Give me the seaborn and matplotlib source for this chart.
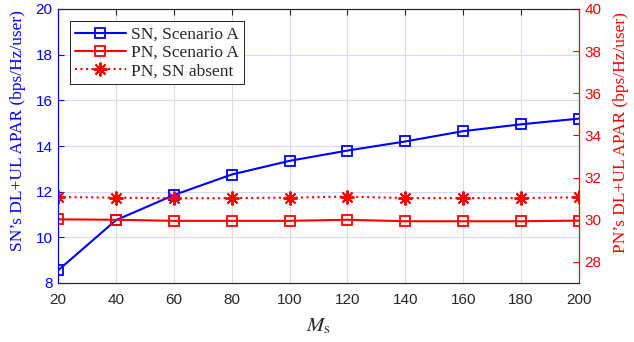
import matplotlib
matplotlib.use("Agg")
import matplotlib.pyplot as plt
import seaborn as sns
import pandas as pd

# Number of SN antennas
ms_values = [20, 40, 60, 80, 100, 120, 140, 160, 180, 200]

# SN's APAR, Scenario A (left axis)
sn_scenario_a = [8.55, 10.75, 11.85, 12.75, 13.35, 13.8, 14.2, 14.65, 14.95, 15.2]
# PN's APAR, Scenario A (right axis)
pn_scenario_a = [30.02, 30.0, 29.95, 29.95, 29.95, 30.0, 29.93, 29.93, 29.93, 29.96]
# PN's APAR with SN absent (right axis)
pn_sn_absent = [31.08, 31.05, 31.02, 31.03, 31.05, 31.1, 31.03, 31.03, 31.03, 31.07]

series_labels = ["SN, Scenario A", "PN, Scenario A", "PN, SN absent"]

df = pd.DataFrame({
    "Ms": ms_values,
    "sn_a": sn_scenario_a,
    "pn_a": pn_scenario_a,
    "pn_abs": pn_sn_absent,
})

sns.set_theme(style="white")
plt.rcParams["font.family"] = ["Liberation Sans", "DejaVu Sans"]
plt.rcParams["mathtext.fontset"] = "stix"

BLUE = (0, 0, 1)
RED = (1, 0, 0)
DARK = "#262626"

fig = plt.figure(figsize=(6.34, 3.42), dpi=100)
ax = fig.add_axes([58 / 634, 59 / 342, 521 / 634, 274 / 342])
ax2 = ax.twinx()

sns.lineplot(data=df, x="Ms", y="sn_a", ax=ax, color=BLUE, lw=1.5,
             marker="s", markersize=6.5, markerfacecolor="none",
             markeredgecolor=BLUE, markeredgewidth=1.3,
             label=series_labels[0], legend=False)
sns.lineplot(data=df, x="Ms", y="pn_a", ax=ax2, color=RED, lw=1.5,
             marker="s", markersize=6.5, markerfacecolor="none",
             markeredgecolor=RED, markeredgewidth=1.3,
             label=series_labels[1], legend=False)
sns.lineplot(data=df, x="Ms", y="pn_abs", ax=ax2, color=RED, lw=1.5,
             linestyle=":", marker=(8, 2, 0), markersize=10,
             markeredgecolor=RED, markeredgewidth=1.4,
             label=series_labels[2], legend=False)

# Axis limits and ticks
ax.set_xlim(20, 200)
ax.set_xticks(ms_values)
ax.set_ylim(8, 20)
ax.set_yticks(range(8, 21, 2))
ax2.set_ylim(27, 40)
ax2.set_yticks(range(28, 41, 2))

# Grid: blue-tinted horizontals for the left axis, gray verticals
for y in range(10, 20, 2):
    ax.axhline(y, color=(0.85, 0.85, 1.0), lw=0.8, zorder=0)
ax.grid(axis="x", color="#dddddd", lw=0.8)
ax.set_axisbelow(True)

# Spines
for a in (ax, ax2):
    a.spines["top"].set_color(DARK)
    a.spines["bottom"].set_color(DARK)
    a.spines["left"].set_color(BLUE)
    a.spines["right"].set_color(RED)
    for s in a.spines.values():
        s.set_linewidth(0.8)

ax.tick_params(axis="x", direction="in", top=True, length=4, width=0.8,
               colors=DARK, labelsize=11, pad=7)
ax.tick_params(axis="y", direction="in", length=4, width=0.8,
               colors=BLUE, labelsize=11, pad=4)
ax2.tick_params(axis="y", direction="in", length=4, width=0.8,
                colors=RED, labelsize=11, pad=4)

ax.set_xlabel(r"$M_{\mathrm{s}}$", fontsize=15, color=DARK)
ax.xaxis.set_label_coords(0.5, -0.12)
ax.set_ylabel("SN\u2019s DL+UL APAR (bps/Hz/user)", fontsize=12.5,
              color=BLUE, family="Liberation Serif")
ax.yaxis.set_label_coords(-0.062, 0.555)
ax2.set_ylabel("PN\u2019s DL+UL APAR (bps/Hz/user)", fontsize=12.5,
               color=RED, family="Liberation Serif", rotation=90)
ax2.yaxis.set_label_coords(1.066, 0.55)

# Combined legend drawn on the top axes
h1, l1 = ax.get_legend_handles_labels()
h2, l2 = ax2.get_legend_handles_labels()
leg = ax2.legend(h1 + h2, l1 + l2, loc="upper left",
                 bbox_to_anchor=(0.023, 0.955), fancybox=False,
                 edgecolor="black", framealpha=1, handlelength=2.9,
                 borderpad=0.3, labelspacing=0.12, handletextpad=0.3,
                 borderaxespad=0,
                 prop={"family": "Liberation Serif", "size": 12.5})
leg.get_frame().set_linewidth(0.6)

fig.savefig("out.png", dpi=100)
